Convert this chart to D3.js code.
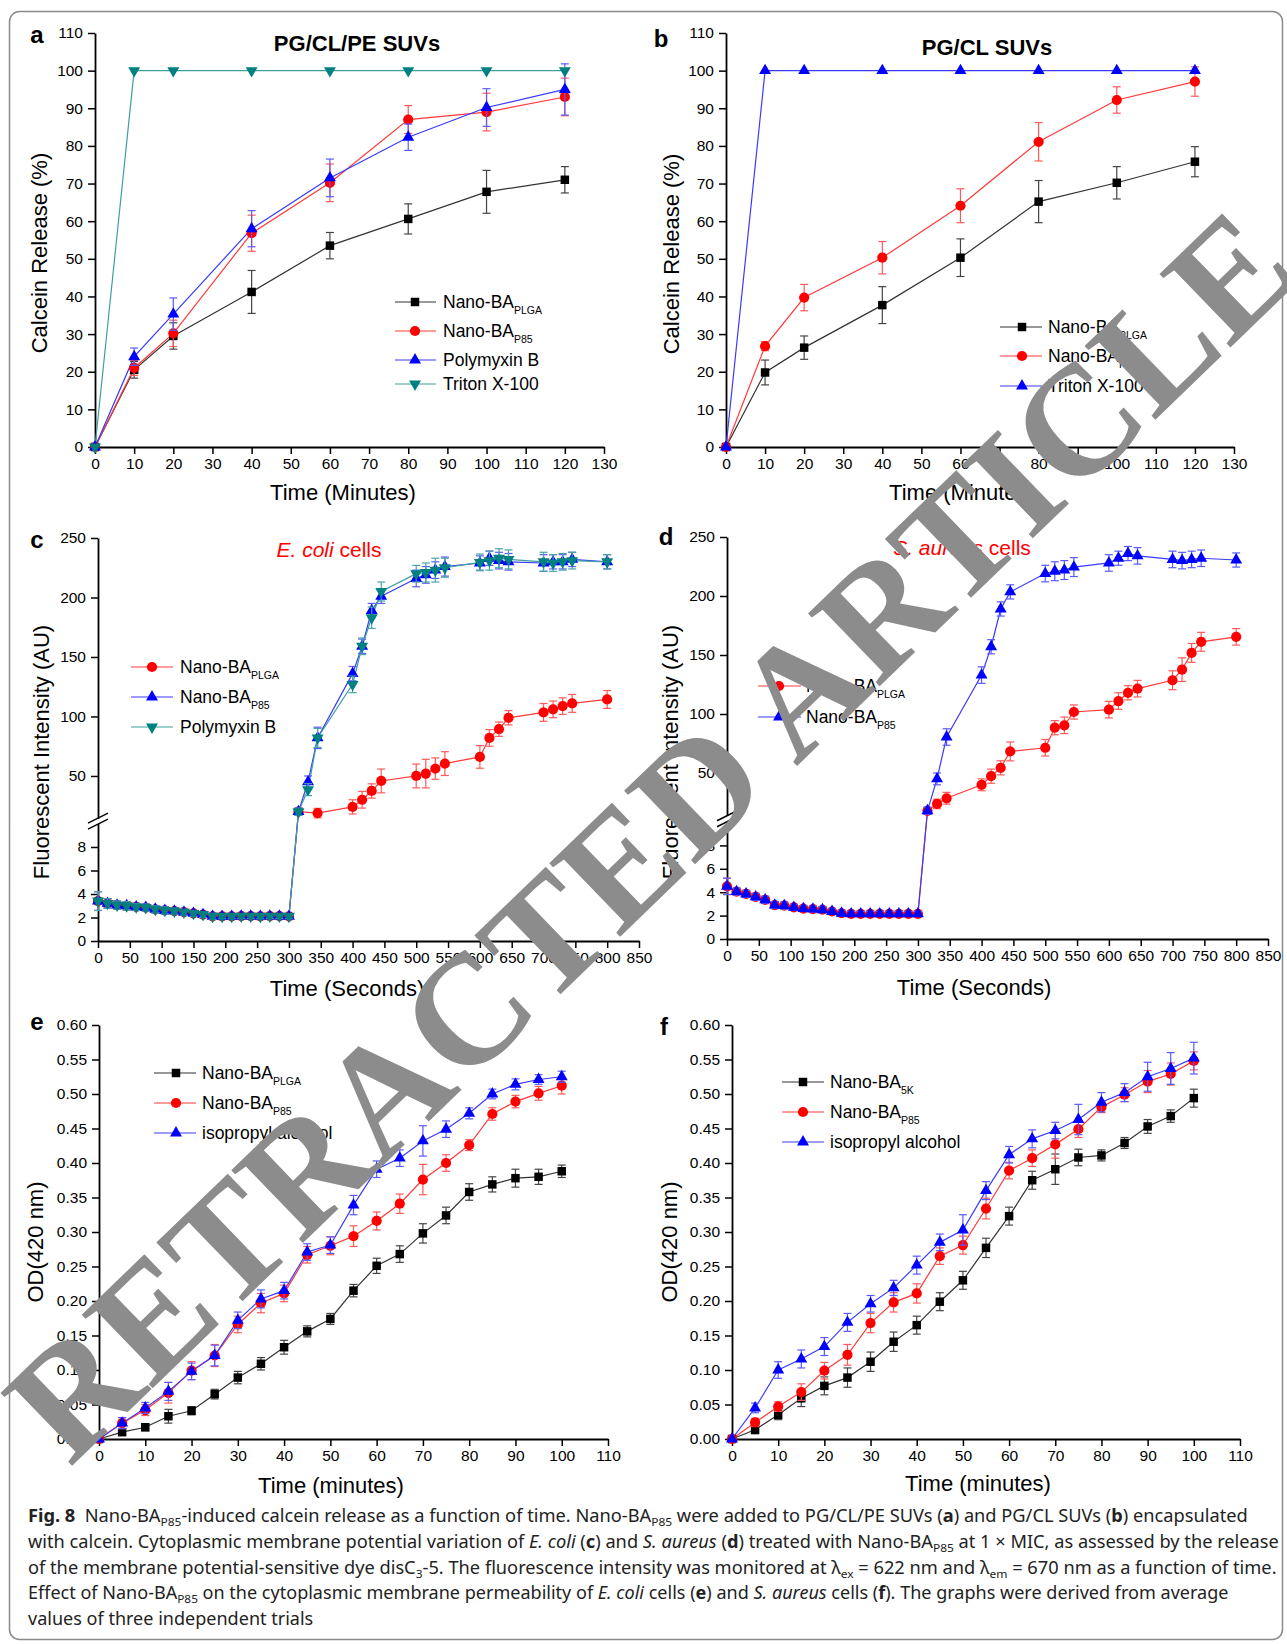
<!DOCTYPE html>
<html>
<head>
<meta charset="utf-8">
<script src="https://cdn.jsdelivr.net/npm/d3@7"></script>
<style>
  body { margin: 0; background: #fff; }
  svg { display: block; font-family: "Liberation Sans", Arial, sans-serif; }
</style>
</head>
<body>
<svg id="fig" width="1287" height="1644"></svg>
<script>
// ---------- data ----------
// a / b : calcein release (%)
const timeAB = [0, 10, 20, 40, 60, 80, 100, 120];
const aPLGA = [0, 20.5, 29.5, 41.2, 53.5, 60.6, 67.8, 71.0];
const aPLGAErr = [0, 2.2, 3.5, 5.7, 3.5, 4.0, 5.7, 3.5];
const aP85 = [0, 21.0, 30.2, 56.8, 70.2, 87.0, 89.0, 93.0];
const aP85Err = [0, 2.0, 3.5, 4.8, 5.0, 3.7, 5.0, 5.0];
const aPoly = [0, 24.0, 35.3, 58.0, 71.5, 82.3, 90.2, 95.0];
const aPolyErr = [0, 2.3, 4.3, 4.8, 5.0, 3.5, 5.0, 6.8];
const aTriton = [0, 100, 100, 100, 100, 100, 100, 100];
const bPLGA = [0, 19.8, 26.4, 37.7, 50.3, 65.2, 70.2, 75.8];
const bPLGAErr = [0, 3.3, 3.1, 4.9, 5.0, 5.6, 4.3, 4.0];
const bP85 = [0, 26.8, 39.7, 50.3, 64.1, 81.1, 92.2, 97.1];
const bP85Err = [0, 1.2, 3.5, 4.3, 4.5, 5.1, 3.5, 3.9];
const bTriton = [0, 100, 100, 100, 100, 100, 100, 100];

// c / d : membrane potential (fluorescence, AU)
const timeEarly = [0, 15, 30, 45, 60, 75, 90, 105, 120, 135, 150, 165, 180, 195, 210, 225, 240, 255, 270, 285, 300];
const timeLate = [315, 330, 345, 400, 415, 430, 445, 500, 515, 530, 545, 600, 615, 630, 645, 700, 715, 730, 745, 800];
const timeLateC = [315, 345, 400, 415, 430, 445, 500, 515, 530, 545, 600, 615, 630, 645, 700, 715, 730, 745, 800];
const cEarly = [3.4, 3.2, 3.05, 3.0, 2.9, 2.85, 2.7, 2.6, 2.55, 2.45, 2.35, 2.25, 2.1, 2.1, 2.1, 2.12, 2.12, 2.1, 2.12, 2.12, 2.1];
const cEarlyErr = [0.8, 0.4, 0.35, 0.35, 0.3, 0.3, 0.3, 0.3, 0.25, 0.25, 0.25, 0.25, 0.25, 0.2, 0.2, 0.2, 0.2, 0.2, 0.2, 0.2, 0.2];
const cPLGALate = [20, 18.8, 24, 30, 37.4, 45.8, 50, 52, 56.2, 60.4, 66, 82, 89.3, 98.9, 103.4, 106, 108.7, 111, 114.3];
const cPLGAErr = [3, 4, 6, 7, 6, 10, 10, 12, 9, 10, 9.5, 7, 6, 6, 7.5, 7, 7, 7.5, 7.5];
const cP85Late = [20, 45, 82, 136, 159, 189, 201, 216, 219, 223, 226, 229, 233, 231, 230, 229, 230, 230, 232, 230];
const cP85Err = [3, 5, 9, 6, 6, 6, 6, 7, 7, 7, 8, 6, 6, 7, 7, 7, 6, 6, 6, 6];
const cPolyLate = [20, 38.5, 82, 127, 159, 183, 205, 220, 221, 223, 225, 229.5, 231, 233, 232, 230, 229, 230, 231, 230];
const cPolyErr = [3, 5, 8, 7, 7, 9, 8, 7, 8, 10, 8, 7, 8, 8, 8, 8, 7, 7, 7, 6];
const dEarly = [4.5, 4.05, 3.85, 3.6, 3.35, 2.9, 2.85, 2.7, 2.6, 2.55, 2.5, 2.35, 2.2, 2.15, 2.15, 2.15, 2.15, 2.15, 2.15, 2.15, 2.15];
const dEarlyErr = [0.7, 0.3, 0.3, 0.3, 0.3, 0.3, 0.3, 0.25, 0.25, 0.25, 0.25, 0.25, 0.25, 0.2, 0.2, 0.2, 0.2, 0.2, 0.2, 0.2, 0.2];
const dPLGALate = [18, 23.8, 28.6, 40, 47.3, 54.4, 68.3, 71.4, 88.4, 90.4, 101.7, 103.7, 111, 118, 121.5, 128.6, 137.6, 151.8, 161.2, 165.4];
const dPLGAErr = [3, 4, 5, 5, 6, 6, 8, 7, 6, 7, 6, 7, 7, 6, 7, 8, 10, 8, 8, 7];
const dP85Late = [18, 45, 80.5, 133, 157, 189, 203.5, 219, 221, 222, 224.5, 228, 232, 236, 234, 231, 230, 231, 232, 230.5];
const dP85Err = [3, 5, 7, 7, 6, 6, 6, 7, 8, 8, 8, 7, 6, 6, 7, 7, 7, 7, 7, 6];

// e / f : membrane permeability OD(420 nm)
const timeEF = [0, 5, 10, 15, 20, 25, 30, 35, 40, 45, 50, 55, 60, 65, 70, 75, 80, 85, 90, 95, 100];
const ePLGA = [0, 0.010, 0.017, 0.033, 0.041, 0.065, 0.089, 0.109, 0.133, 0.156, 0.174, 0.215, 0.251, 0.268, 0.298, 0.324, 0.358, 0.369, 0.378, 0.380, 0.388];
const ePLGAErr = [0, 0.005, 0.005, 0.010, 0.006, 0.007, 0.009, 0.009, 0.010, 0.008, 0.008, 0.009, 0.011, 0.012, 0.014, 0.012, 0.012, 0.011, 0.013, 0.011, 0.009];
const eP85 = [0, 0.023, 0.042, 0.067, 0.099, 0.121, 0.166, 0.197, 0.211, 0.267, 0.280, 0.294, 0.316, 0.341, 0.376, 0.400, 0.426, 0.471, 0.489, 0.501, 0.512];
const eP85Err = [0, 0.008, 0.008, 0.015, 0.013, 0.016, 0.012, 0.014, 0.012, 0.012, 0.013, 0.015, 0.013, 0.014, 0.022, 0.012, 0.008, 0.009, 0.009, 0.010, 0.012];
const eIso = [0, 0.023, 0.045, 0.069, 0.098, 0.121, 0.172, 0.203, 0.215, 0.271, 0.281, 0.339, 0.391, 0.407, 0.432, 0.449, 0.472, 0.500, 0.514, 0.521, 0.525];
const eIsoErr = [0, 0.008, 0.008, 0.013, 0.012, 0.015, 0.012, 0.013, 0.012, 0.012, 0.012, 0.014, 0.012, 0.012, 0.022, 0.012, 0.008, 0.007, 0.008, 0.007, 0.008];
const f5K = [0, 0.0135, 0.035, 0.059, 0.077, 0.089, 0.112, 0.141, 0.165, 0.199, 0.230, 0.277, 0.323, 0.375, 0.391, 0.408, 0.411, 0.429, 0.453, 0.468, 0.494];
const f5KErr = [0, 0.006, 0.007, 0.012, 0.013, 0.014, 0.014, 0.014, 0.013, 0.013, 0.013, 0.014, 0.013, 0.013, 0.022, 0.012, 0.008, 0.008, 0.010, 0.009, 0.013];
const fP85 = [0, 0.024, 0.047, 0.068, 0.099, 0.122, 0.168, 0.198, 0.211, 0.265, 0.281, 0.334, 0.389, 0.407, 0.427, 0.449, 0.481, 0.499, 0.518, 0.529, 0.548];
const fP85Err = [0, 0.006, 0.007, 0.012, 0.012, 0.015, 0.014, 0.014, 0.014, 0.012, 0.013, 0.015, 0.012, 0.012, 0.020, 0.012, 0.008, 0.010, 0.016, 0.016, 0.013];
const fIso = [0, 0.045, 0.100, 0.116, 0.134, 0.169, 0.196, 0.219, 0.252, 0.285, 0.303, 0.360, 0.412, 0.435, 0.447, 0.463, 0.488, 0.502, 0.525, 0.537, 0.552];
const fIsoErr = [0, 0.007, 0.012, 0.013, 0.013, 0.013, 0.012, 0.011, 0.013, 0.012, 0.022, 0.013, 0.012, 0.013, 0.012, 0.022, 0.014, 0.013, 0.021, 0.023, 0.023];

// tick labels
const xTicksAB = [0, 10, 20, 30, 40, 50, 60, 70, 80, 90, 100, 110, 120, 130];
const yTicksAB = [0, 10, 20, 30, 40, 50, 60, 70, 80, 90, 100, 110];
const xTicksCD = [0, 50, 100, 150, 200, 250, 300, 350, 400, 450, 500, 550, 600, 650, 700, 750, 800, 850];
const yTicksLow = [0, 2, 4, 6, 8];
const yTicksHigh = [50, 100, 150, 200, 250];
const xTicksEF = [0, 10, 20, 30, 40, 50, 60, 70, 80, 90, 100, 110];
const yTicksEF = [0, 0.05, 0.10, 0.15, 0.20, 0.25, 0.30, 0.35, 0.40, 0.45, 0.50, 0.55, 0.60];

// ---------- drawing ----------
const svg = d3.select("#fig");
const COL = {
    black: { mark: "#000", line: "#333", err: "#444" },
    red: { mark: "#ff0000", line: "#ff3a3a", err: "#ff5a5a" },
    blue: { mark: "#0000ff", line: "#3a3aff", err: "#5a5aff" },
    teal: { mark: "#008080", line: "#3f9f9f", err: "#4aa5a5" }
};
const SYM = {
    square: { type: d3.symbolSquare, size: 72, rot: 0 },
    circle: { type: d3.symbolCircle, size: 82, rot: 0 },
    tri: { type: d3.symbolTriangle, size: 62, rot: 0 },
    triDown: { type: d3.symbolTriangle, size: 62, rot: 180 }
};

// outer frame
svg.append("rect")
    .attr("x", 9.5).attr("y", 11.5)
    .attr("width", 1273).attr("height", 1628)
    .attr("rx", 10)
    .attr("fill", "none")
    .attr("stroke", "#8a8a8a")
    .attr("stroke-width", 1.5);

function pts(t, v, e) {
    return t.map((d, i) => ({ t: d, v: v[i], e: e ? e[i] : 0 }));
}

function styleAxis(sel) {
    sel.attr("font-size", 15.5).attr("font-family", null);
    sel.select(".domain").attr("stroke-width", 1.8);
    sel.selectAll(".tick line").attr("stroke-width", 1.5);
}

function drawMarker(g, x, y, color, sym) {
    g.append("path")
        .attr("d", d3.symbol().type(SYM[sym].type).size(SYM[sym].size)())
        .attr("transform", `translate(${x},${y}) rotate(${SYM[sym].rot})`)
        .attr("fill", COL[color].mark);
}

function addLabel(sel, item, size) {
    sel.append("tspan").text(item.main);
    if (item.sub) {
        sel.append("tspan").attr("dy", size * 0.33).attr("font-size", size * 0.6).text(item.sub);
    }
}

function drawPanel(cfg) {
    const g = svg.append("g");
    const x = d3.scaleLinear().domain(cfg.xDomain).range([cfg.left, cfg.right]);
    let y;

    if (cfg.broken) {
        const lo = d3.scaleLinear().domain([0, 10]).range([cfg.bottom, cfg.breakLo]);
        const hi = d3.scaleLinear().domain([14, 250]).range([cfg.breakHi, cfg.top]);
        y = v => (v <= 12 ? lo(v) : hi(v));
        g.append("g").attr("transform", `translate(${cfg.left},0)`)
            .call(d3.axisLeft(lo).tickValues(yTicksLow).tickSize(7).tickPadding(5).tickSizeOuter(0))
            .call(styleAxis);
        g.append("g").attr("transform", `translate(${cfg.left},0)`)
            .call(d3.axisLeft(hi).tickValues(yTicksHigh).tickSize(7).tickPadding(5).tickSizeOuter(0))
            .call(styleAxis);
        // break marks on the y axis
        const mid = (cfg.breakLo + cfg.breakHi) / 2;
        g.append("rect").attr("x", cfg.left - 3).attr("y", cfg.breakHi)
            .attr("width", 6).attr("height", cfg.breakLo - cfg.breakHi).attr("fill", "#fff");
        [-3, 3].forEach(off => {
            g.append("line")
                .attr("x1", cfg.left - 10).attr("y1", mid + off + 5)
                .attr("x2", cfg.left + 10).attr("y2", mid + off - 5)
                .attr("stroke", "#000").attr("stroke-width", 1.5);
        });
    } else {
        y = d3.scaleLinear().domain(cfg.yDomain).range([cfg.bottom, cfg.top]);
        g.append("g").attr("transform", `translate(${cfg.left},0)`)
            .call(d3.axisLeft(y).tickValues(cfg.yTicks).tickFormat(cfg.yFmt).tickSize(7).tickPadding(5).tickSizeOuter(0))
            .call(styleAxis);
    }

    g.append("g").attr("transform", `translate(0,${cfg.bottom})`)
        .call(d3.axisBottom(x).tickValues(cfg.xTicks).tickSize(7).tickPadding(4).tickSizeOuter(0))
        .call(styleAxis);

    const line = d3.line().x(d => x(d.t)).y(d => y(d.v));

    cfg.series.forEach(s => {
        g.append("path").datum(s.data)
            .attr("d", line)
            .attr("fill", "none")
            .attr("stroke", COL[s.color].line)
            .attr("stroke-width", 1.2);
    });
    cfg.series.forEach(s => {
        const eg = g.append("g").attr("stroke", COL[s.color].err).attr("stroke-width", 1.2);
        s.data.filter(d => d.e > 0).forEach(d => {
            const cx = x(d.t), y1 = y(d.v + d.e), y2 = y(d.v - d.e);
            eg.append("line").attr("x1", cx).attr("x2", cx).attr("y1", y1).attr("y2", y2);
            eg.append("line").attr("x1", cx - 4).attr("x2", cx + 4).attr("y1", y1).attr("y2", y1);
            eg.append("line").attr("x1", cx - 4).attr("x2", cx + 4).attr("y1", y2).attr("y2", y2);
        });
        s.data.forEach(d => drawMarker(g, x(d.t), y(d.v), s.color, s.sym));
    });

    // legend
    const L = cfg.legend;
    cfg.series.filter(s => s.label).forEach((s, i) => {
        const ry = L.rows[i];
        g.append("line").attr("x1", L.x0).attr("x2", L.x1).attr("y1", ry).attr("y2", ry)
            .attr("stroke", COL[s.color].line).attr("stroke-width", 1.2);
        drawMarker(g, L.mx, ry, s.color, s.sym);
        const t = g.append("text").attr("x", L.tx).attr("y", ry + 6).attr("font-size", 17.5);
        addLabel(t, s.label, 17.5);
    });

    // panel letter, title and axis titles
    g.append("text").attr("x", cfg.letter[0]).attr("y", cfg.letter[1])
        .attr("font-size", 24).attr("font-weight", "bold").attr("text-anchor", "middle").text(cfg.id);
    if (cfg.title) {
        const tt = g.append("text").attr("x", cfg.title.x).attr("y", cfg.title.y)
            .attr("text-anchor", "middle").attr("font-size", cfg.title.size);
        if (cfg.title.bold) tt.attr("font-weight", "bold");
        if (cfg.title.color) tt.attr("fill", cfg.title.color);
        cfg.title.parts.forEach(p => {
            const ts = tt.append("tspan").text(p.t);
            if (p.i) ts.attr("font-style", "italic");
        });
    }
    g.append("text").attr("x", cfg.xLabel[0]).attr("y", cfg.xLabel[1])
        .attr("text-anchor", "middle").attr("font-size", 22).text(cfg.xLabel[2]);
    g.append("text")
        .attr("transform", `translate(${cfg.yLabel[0]},${cfg.yLabel[1]}) rotate(-90)`)
        .attr("text-anchor", "middle").attr("font-size", 22).text(cfg.yLabel[2]);
}

const lblPLGA = { main: "Nano-BA", sub: "PLGA" };
const lblP85 = { main: "Nano-BA", sub: "P85" };
const lbl5K = { main: "Nano-BA", sub: "5K" };

drawPanel({
    id: "a", left: 95, right: 604, top: 33, bottom: 447,
    xDomain: [0, 130], yDomain: [0, 110], xTicks: xTicksAB, yTicks: yTicksAB, yFmt: d3.format("d"),
    letter: [37, 43],
    title: { x: 357, y: 51, size: 22, bold: true, parts: [{ t: "PG/CL/PE SUVs" }] },
    xLabel: [343, 500, "Time (Minutes)"], yLabel: [47, 253, "Calcein Release (%)"],
    legend: { x0: 395, x1: 436, mx: 415, tx: 443, rows: [302, 331, 360, 384] },
    series: [
        { data: pts(timeAB, aPLGA, aPLGAErr), color: "black", sym: "square", label: lblPLGA },
        { data: pts(timeAB, aP85, aP85Err), color: "red", sym: "circle", label: lblP85 },
        { data: pts(timeAB, aPoly, aPolyErr), color: "blue", sym: "tri", label: { main: "Polymyxin B" } },
        { data: pts(timeAB, aTriton), color: "teal", sym: "triDown", label: { main: "Triton X-100" } }
    ]
});

drawPanel({
    id: "b", left: 726, right: 1234, top: 33, bottom: 447,
    xDomain: [0, 130], yDomain: [0, 110], xTicks: xTicksAB, yTicks: yTicksAB, yFmt: d3.format("d"),
    letter: [661, 47],
    title: { x: 987, y: 55, size: 22, bold: true, parts: [{ t: "PG/CL SUVs" }] },
    xLabel: [962, 500, "Time (Minutes)"], yLabel: [679, 254, "Calcein Release (%)"],
    legend: { x0: 1000, x1: 1042, mx: 1022, tx: 1048, rows: [327, 356, 386] },
    series: [
        { data: pts(timeAB, bPLGA, bPLGAErr), color: "black", sym: "square", label: lblPLGA },
        { data: pts(timeAB, bP85, bP85Err), color: "red", sym: "circle", label: lblP85 },
        { data: pts(timeAB, bTriton), color: "blue", sym: "tri", label: { main: "Triton X-100" } }
    ]
});

drawPanel({
    id: "c", left: 98, right: 639, top: 538, bottom: 941, broken: true, breakLo: 823.5, breakHi: 818.8,
    xDomain: [0, 850], xTicks: xTicksCD,
    letter: [37, 548],
    title: { x: 329, y: 557, size: 21, color: "#ff0000", parts: [{ t: "E. coli", i: true }, { t: " cells" }] },
    xLabel: [347, 996, "Time (Seconds)"], yLabel: [49, 752, "Fluorescent Intensity (AU)"],
    legend: { x0: 131, x1: 173, mx: 152, tx: 180, rows: [667, 697, 727] },
    series: [
        { data: pts(timeEarly.concat(timeLateC), cEarly.concat(cPLGALate), cEarlyErr.concat(cPLGAErr)), color: "red", sym: "circle", label: lblPLGA },
        { data: pts(timeEarly.concat(timeLate), cEarly.concat(cP85Late), cEarlyErr.concat(cP85Err)), color: "blue", sym: "tri", label: lblP85 },
        { data: pts(timeEarly.concat(timeLate), cEarly.concat(cPolyLate), cEarlyErr.concat(cPolyErr)), color: "teal", sym: "triDown", label: { main: "Polymyxin B" } }
    ]
});

drawPanel({
    id: "d", left: 727, right: 1268, top: 537, bottom: 939, broken: true, breakLo: 822, breakHi: 815.5,
    xDomain: [0, 850], xTicks: xTicksCD,
    letter: [666, 545],
    title: { x: 962, y: 555, size: 21, color: "#ff0000", parts: [{ t: "S. aureus", i: true }, { t: " cells" }] },
    xLabel: [974, 995, "Time (Seconds)"], yLabel: [678, 752, "Fluorescent Intensity (AU)"],
    legend: { x0: 758, x1: 801, mx: 779, tx: 806, rows: [686, 717] },
    series: [
        { data: pts(timeEarly.concat(timeLate), dEarly.concat(dPLGALate), dEarlyErr.concat(dPLGAErr)), color: "red", sym: "circle", label: lblPLGA },
        { data: pts(timeEarly.concat(timeLate), dEarly.concat(dP85Late), dEarlyErr.concat(dP85Err)), color: "blue", sym: "tri", label: lblP85 }
    ]
});

drawPanel({
    id: "e", left: 99, right: 608, top: 1025, bottom: 1439,
    xDomain: [0, 110], yDomain: [0, 0.6], xTicks: xTicksEF, yTicks: yTicksEF, yFmt: d3.format(".2f"),
    letter: [37, 1030],
    xLabel: [331, 1493, "Time (minutes)"], yLabel: [43, 1242, "OD(420 nm)"],
    legend: { x0: 154, x1: 196, mx: 176, tx: 202, rows: [1073, 1103, 1133] },
    series: [
        { data: pts(timeEF, ePLGA, ePLGAErr), color: "black", sym: "square", label: lblPLGA },
        { data: pts(timeEF, eP85, eP85Err), color: "red", sym: "circle", label: lblP85 },
        { data: pts(timeEF, eIso, eIsoErr), color: "blue", sym: "tri", label: { main: "isopropyl alcohol" } }
    ]
});

drawPanel({
    id: "f", left: 732, right: 1240, top: 1025, bottom: 1439,
    xDomain: [0, 110], yDomain: [0, 0.6], xTicks: xTicksEF, yTicks: yTicksEF, yFmt: d3.format(".2f"),
    letter: [664, 1035],
    xLabel: [978, 1491, "Time (minutes)"], yLabel: [677, 1242, "OD(420 nm)"],
    legend: { x0: 782, x1: 824, mx: 803, tx: 830, rows: [1082, 1112, 1142] },
    series: [
        { data: pts(timeEF, f5K, f5KErr), color: "black", sym: "square", label: lbl5K },
        { data: pts(timeEF, fP85, fP85Err), color: "red", sym: "circle", label: lblP85 },
        { data: pts(timeEF, fIso, fIsoErr), color: "blue", sym: "tri", label: { main: "isopropyl alcohol" } }
    ]
});

// ---------- caption ----------
const captionLines = [
    [["Fig. 8", "b"], ["  Nano-BA"], ["P85", "sub"], ["-induced calcein release as a function of time. Nano-BA"], ["P85", "sub"], [" were added to PG/CL/PE SUVs ("], ["a", "b"], [") and PG/CL SUVs ("], ["b", "b"], [") encapsulated"]],
    [["with calcein. Cytoplasmic membrane potential variation of "], ["E. coli", "i"], [" ("], ["c", "b"], [") and "], ["S. aureus", "i"], [" ("], ["d", "b"], [") treated with Nano-BA"], ["P85", "sub"], [" at 1 \u00d7 MIC, as assessed by the release"]],
    [["of the membrane potential-sensitive dye disC"], ["3", "sub"], ["-5. The fluorescence intensity was monitored at \u03bb"], ["ex", "sub"], [" = 622 nm and \u03bb"], ["em", "sub"], [" = 670 nm as a function of time."]],
    [["Effect of Nano-BA"], ["P85", "sub"], [" on the cytoplasmic membrane permeability of "], ["E. coli", "i"], [" cells ("], ["e", "b"], [") and "], ["S. aureus", "i"], [" cells ("], ["f", "b"], ["). The graphs were derived from average"]],
    [["values of three independent trials"]]
];
const captionBase = [1522, 1548, 1574, 1599, 1625];
const captionEnd = [1249, 1279, 1278, 1229, null];

let lastScale = 1;
captionLines.forEach((parts, i) => {
    const g = svg.append("g");
    const t = g.append("text")
        .attr("x", 0).attr("y", 0)
        .attr("font-family", "'Noto Sans', 'Open Sans', sans-serif")
        .attr("font-size", 17.5)
        .attr("fill", "#222")
        .style("white-space", "pre");
    let down = false;
    parts.forEach(([txt, kind]) => {
        const ts = t.append("tspan").text(txt);
        if (kind === "sub") {
            ts.attr("font-size", 11.5).attr("dy", 4);
            down = true;
        } else if (down) {
            ts.attr("dy", -4);
            down = false;
        }
        if (kind === "b") ts.attr("font-weight", "bold");
        if (kind === "i") ts.attr("font-style", "italic");
    });
    // the last short line keeps the squeeze of the line above it
    const sx = captionEnd[i] ? (captionEnd[i] - 28) / t.node().getComputedTextLength() : lastScale;
    lastScale = sx;
    g.attr("transform", `translate(28,${captionBase[i]}) scale(${sx},1)`);
});

// ---------- retraction watermark ----------
svg.append("g")
    .attr("transform", "translate(651,836) rotate(-44)")
    .append("text")
    .attr("x", 0).attr("y", 51)
    .attr("text-anchor", "middle")
    .attr("font-family", "'Liberation Serif', 'Times New Roman', serif")
    .attr("font-weight", "bold")
    .attr("font-size", 156)
    .attr("fill", "#8c8c8c")
    .attr("textLength", 1715)
    .attr("lengthAdjust", "spacing")
    .text("RETRACTED ARTICLE");
</script>
</body>
</html>
